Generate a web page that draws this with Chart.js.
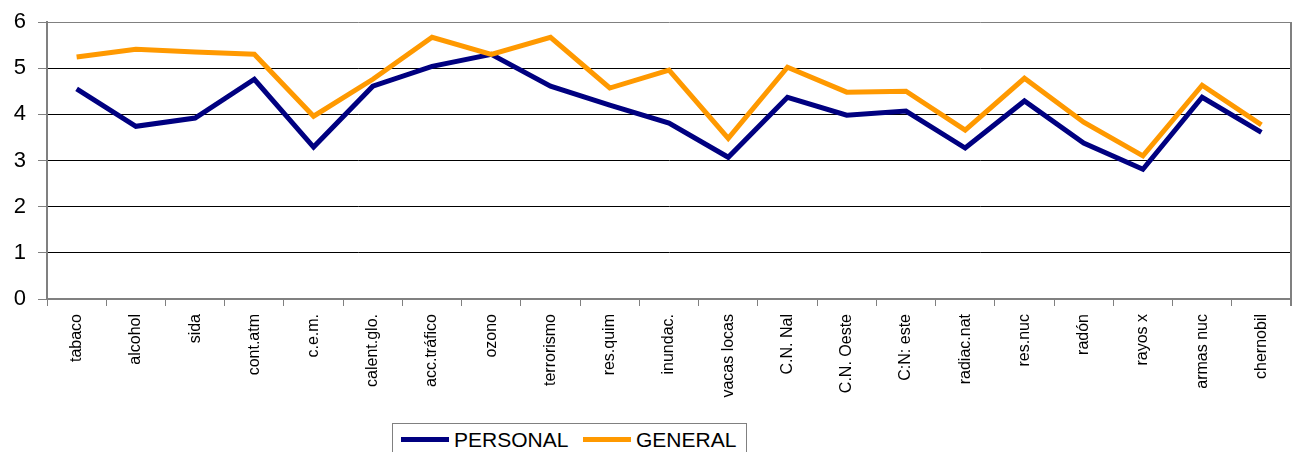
<!DOCTYPE html>
<html>
<head>
<meta charset="utf-8">
<script src="https://cdn.jsdelivr.net/npm/chart.js@4/dist/chart.umd.min.js"></script>
<style>
  html, body { margin: 0; padding: 0; background: #fff; overflow: hidden; }
  #wrap { position: relative; width: 1296px; height: 452px; }
  #legend {
    position: absolute; left: 392px; top: 423px; width: 355px; height: 34px;
    border: 1px solid #808080; box-sizing: border-box; background: #fff;
    font-family: "Liberation Sans", Arial, sans-serif; font-size: 21px; color: #000;
  }
  #legend span.sw { position: absolute; top: 13px; height: 5px; width: 48px; }
  #legend span.tx { position: absolute; top: 4px; }
</style>
</head>
<body>
<div id="wrap">
  <canvas id="riskChart" width="1296" height="452"></canvas>
  <div id="legend">
    <span class="sw" style="left:8px;background:#000080"></span>
    <span class="tx" style="left:61px">PERSONAL</span>
    <span class="sw" style="left:190px;background:#FF9900"></span>
    <span class="tx" style="left:243px">GENERAL</span>
  </div>
</div>
<script>
var categories = ["tabaco", "alcohol", "sida", "cont.atm", "c.e.m.", "calent.glo.", "acc.tráfico", "ozono",
  "terrorismo", "res.quim", "inundac.", "vacas locas", "C.N. Nal", "C.N. Oeste", "C:N: este", "radiac.nat",
  "res.nuc", "radón", "rayos x", "armas nuc", "chernobil"];
var personal = [4.55, 3.74, 3.92, 4.76, 3.29, 4.61, 5.04, 5.30, 4.61, 4.20, 3.81, 3.07, 4.37, 3.98, 4.07, 3.27,
  4.29, 3.38, 2.81, 4.37, 3.61];
var general = [5.24, 5.41, 5.35, 5.30, 3.96, 4.76, 5.67, 5.30, 5.67, 4.57, 4.96, 3.48, 5.02, 4.48, 4.50, 3.66,
  4.78, 3.83, 3.10, 4.63, 3.77];
var yTicks = [0, 1, 2, 3, 4, 5, 6];

var fontFamily = '"Liberation Sans", Arial, sans-serif';

// right-hand frame line of the plot area
var frameRight = {
  id: "frameRight",
  afterDraw: function(chart) {
    var a = chart.chartArea;
    var c = chart.ctx;
    c.save();
    c.strokeStyle = "#808080";
    c.lineWidth = 2;
    c.beginPath();
    c.moveTo(a.right, a.top);
    c.lineTo(a.right, a.bottom + 7);
    c.stroke();
    c.restore();
  }
};

var riskChart = new Chart(document.getElementById("riskChart"), {
  type: "line",
  data: {
    labels: categories,
    datasets: [
      {
        label: "PERSONAL",
        data: personal,
        borderColor: "#000080",
        backgroundColor: "#000080",
        borderWidth: 5,
        pointRadius: 0,
        tension: 0,
        order: 1
      },
      {
        label: "GENERAL",
        data: general,
        borderColor: "#FF9900",
        backgroundColor: "#FF9900",
        borderWidth: 5,
        pointRadius: 0,
        tension: 0,
        order: 0
      }
    ]
  },
  options: {
    responsive: false,
    animation: false,
    layout: { padding: { top: 22, right: 5, left: 0, bottom: 0 } },
    plugins: {
      legend: { display: false },
      tooltip: { enabled: false }
    },
    scales: {
      x: {
        offset: true,
        grid: { offset: true, drawOnChartArea: false, drawTicks: true, tickLength: 7, color: "#808080" },
        border: { color: "#808080", width: 2 },
        ticks: {
          autoSkip: false, maxRotation: 90, minRotation: 90, padding: 8,
          color: "#000", font: { family: fontFamily, size: 16 }
        },
        afterFit: function(scale) { scale.height = 153; scale.paddingLeft = 0; scale.paddingRight = 0; }
      },
      y: {
        min: 0,
        max: 6,
        afterBuildTicks: function(scale) {
          scale.ticks = yTicks.map(function(v) { return { value: v }; });
        },
        grid: {
          color: function(ctx) { return ctx.tick && ctx.tick.value === 6 ? "#808080" : "#000"; },
          lineWidth: 1,
          tickLength: 9,
          tickColor: "#808080"
        },
        border: { color: "#808080", width: 2 },
        ticks: { padding: 12, color: "#000", font: { family: fontFamily, size: 22 } },
        afterFit: function(scale) { scale.width = 47; scale.paddingTop = 0; scale.paddingBottom = 0; }
      }
    }
  },
  plugins: [frameRight]
});
</script>
</body>
</html>
